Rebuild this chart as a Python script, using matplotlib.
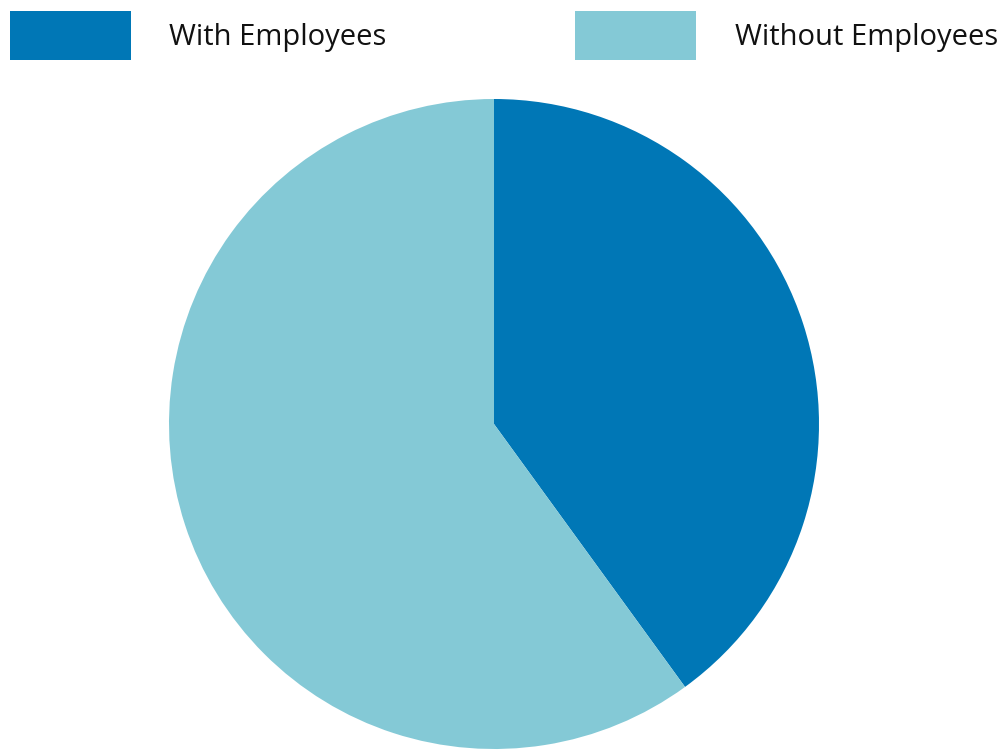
import matplotlib
matplotlib.use("Agg")
import matplotlib.pyplot as plt
from matplotlib.patches import Rectangle

labels = ["With Employees", "Without Employees"]
values = [40, 60]
colors = ["#0077b6", "#84c9d6"]

plt.rcParams['font.family'] = ['Open Sans', 'DejaVu Sans']

W, H = 1005, 750
fig = plt.figure(figsize=(W / 100, H / 100), dpi=100)

# pie centred at (494, 424) px with radius 325 px
cx, cy, r = 494, 424, 325
ax = fig.add_axes([(cx - r) / W, (H - cy - r) / H, 2 * r / W, 2 * r / H])
ax.pie(values, colors=colors, startangle=90, counterclock=False,
       radius=1, wedgeprops=dict(linewidth=0))
ax.set_xlim(-1, 1)
ax.set_ylim(-1, 1)
ax.set_aspect('equal')
ax.axis('off')

# legend across the top
box_x = [10, 575]
text_x = [169, 735]
for lab, col, bx, tx in zip(labels, colors, box_x, text_x):
    fig.patches.append(Rectangle((bx / W, (H - 60) / H), 121 / W, 49 / H,
                                 transform=fig.transFigure, color=col, linewidth=0))
    fig.text(tx / W, (H - 45) / H, lab, fontsize=21, va='baseline', ha='left', color='#111111')

fig.savefig("out.png", dpi=100)
